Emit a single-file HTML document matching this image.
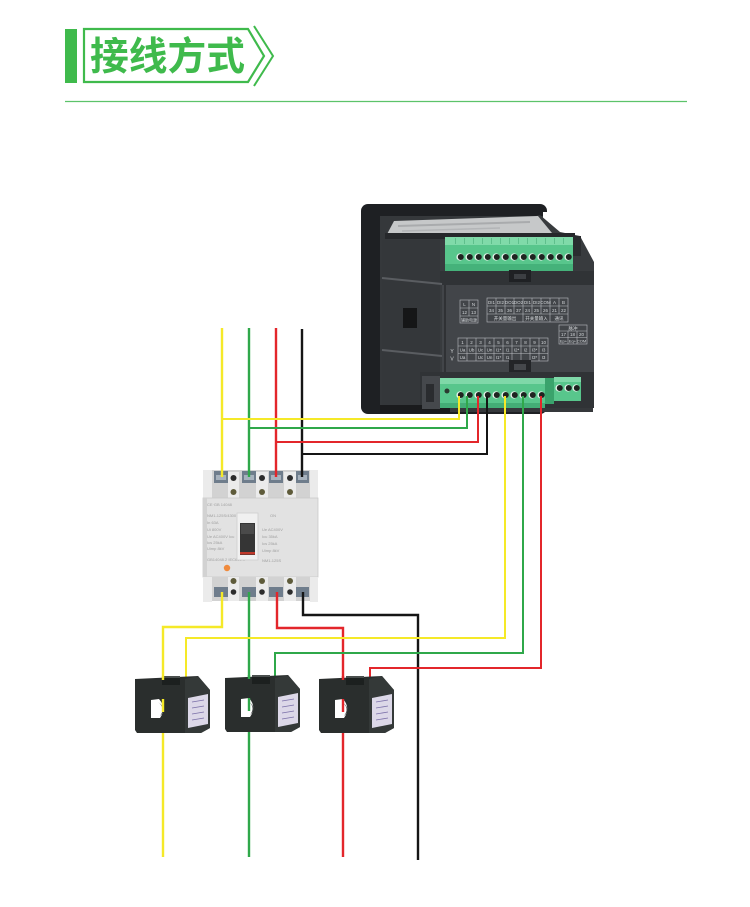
<!DOCTYPE html>
<html><head><meta charset="utf-8"><style>
html,body{margin:0;padding:0;background:#fff;}
body{width:750px;height:907px;overflow:hidden;}
svg{display:block;}
.t{font-family:"Liberation Sans","Noto Sans CJK SC",sans-serif;}
</style></head><body>
<svg width="750" height="907" viewBox="0 0 750 907" xmlns="http://www.w3.org/2000/svg">
<!-- header -->
<rect x="65" y="29" width="12" height="54" fill="#3fba4c"/>
<path d="M84,29 L248,29 L264,56 L248,82 L84,82 Z" fill="none" stroke="#3fba4c" stroke-width="2.2"/>
<path d="M254,26 L273,56 L254,86" fill="none" stroke="#3fba4c" stroke-width="2"/>
<text class="t" x="90" y="70" font-size="39" font-weight="700" fill="#3fba4c" textLength="155" lengthAdjust="spacingAndGlyphs">接线方式</text>
<line x1="65" y1="101.5" x2="687" y2="101.5" stroke="#5cc36a" stroke-width="1.2"/>

<!-- ===== METER ===== -->
<rect x="361" y="204" width="186" height="210" rx="7" fill="#1e2023"/>
<rect x="380" y="216" width="213" height="196" fill="#35383b"/>
<rect x="543" y="212" width="50" height="60" fill="#fff"/>
<path d="M540,215 L560,232 L580,236 L594,262 L594,372 L440,372 L440,240 Z" fill="#383b3e"/>
<!-- top label face -->
<path d="M385,238 L394,221 L538,216 L552,233 Z" fill="#c6c8c9"/>
<path d="M398,226 L530,222" stroke="#a9abad" stroke-width="2"/>
<path d="M402,231 L500,228" stroke="#b3b5b7" stroke-width="1.5"/>
<rect x="385" y="233" width="190" height="6" fill="#26282b"/>
<!-- left clip near top terminal -->
<rect x="424" y="246" width="12" height="20" fill="#2a2c2f" stroke="#505357" stroke-width="1"/>
<!-- top terminal block -->
<rect x="445" y="237" width="128" height="34" fill="#58c68c"/>
<rect x="445" y="237" width="128" height="8" fill="#80daa9"/>
<rect x="445" y="264" width="128" height="7" fill="#45b27a"/>
<g fill="#5fbf8c">
<rect x="455" y="238" width="1" height="6"/><rect x="464" y="238" width="1" height="6"/><rect x="473" y="238" width="1" height="6"/><rect x="482" y="238" width="1" height="6"/><rect x="491" y="238" width="1" height="6"/><rect x="500" y="238" width="1" height="6"/><rect x="509" y="238" width="1" height="6"/><rect x="518" y="238" width="1" height="6"/><rect x="527" y="238" width="1" height="6"/><rect x="536" y="238" width="1" height="6"/><rect x="545" y="238" width="1" height="6"/><rect x="554" y="238" width="1" height="6"/><rect x="563" y="238" width="1" height="6"/>
</g>
<rect x="573" y="236" width="8" height="20" fill="#2a2c2f"/>
<g>
<circle cx="460" cy="257" r="3.6" fill="#eaf5ee"/><circle cx="460.8" cy="257" r="3" fill="#1e2420"/>
<circle cx="469" cy="257" r="3.6" fill="#eaf5ee"/><circle cx="469.8" cy="257" r="3" fill="#1e2420"/>
<circle cx="478" cy="257" r="3.6" fill="#eaf5ee"/><circle cx="478.8" cy="257" r="3" fill="#1e2420"/>
<circle cx="487" cy="257" r="3.6" fill="#eaf5ee"/><circle cx="487.8" cy="257" r="3" fill="#1e2420"/>
<circle cx="496" cy="257" r="3.6" fill="#eaf5ee"/><circle cx="496.8" cy="257" r="3" fill="#1e2420"/>
<circle cx="505" cy="257" r="3.6" fill="#eaf5ee"/><circle cx="505.8" cy="257" r="3" fill="#1e2420"/>
<circle cx="514" cy="257" r="3.6" fill="#eaf5ee"/><circle cx="514.8" cy="257" r="3" fill="#1e2420"/>
<circle cx="523" cy="257" r="3.6" fill="#eaf5ee"/><circle cx="523.8" cy="257" r="3" fill="#1e2420"/>
<circle cx="532" cy="257" r="3.6" fill="#eaf5ee"/><circle cx="532.8" cy="257" r="3" fill="#1e2420"/>
<circle cx="541" cy="257" r="3.6" fill="#eaf5ee"/><circle cx="541.8" cy="257" r="3" fill="#1e2420"/>
<circle cx="550" cy="257" r="3.6" fill="#eaf5ee"/><circle cx="550.8" cy="257" r="3" fill="#1e2420"/>
<circle cx="559" cy="257" r="3.6" fill="#eaf5ee"/><circle cx="559.8" cy="257" r="3" fill="#1e2420"/>
<circle cx="568" cy="257" r="3.6" fill="#eaf5ee"/><circle cx="568.8" cy="257" r="3" fill="#1e2420"/>
</g>
<!-- ledge under top terminal -->
<rect x="430" y="271" width="164" height="14" fill="#303336"/>
<rect x="509" y="270" width="22" height="12" fill="#1f2124"/>
<rect x="514" y="274" width="12" height="5" fill="#3c3f43"/>
<!-- left side panel -->
<rect x="382" y="240" width="58" height="165" fill="#34373a"/>
<path d="M382,278 L442,284" stroke="#5a5d61" stroke-width="2"/>
<path d="M382,350 L442,356" stroke="#5a5d61" stroke-width="2"/>
<rect x="403" y="308" width="14" height="20" fill="#151617"/>
<!-- label panel -->
<rect x="442" y="285" width="152" height="88" fill="#424549"/>
<line x1="445" y1="285" x2="445" y2="373" stroke="#2a2c2f" stroke-width="1.5"/>
<g stroke="#b9bdc1" stroke-width="0.6" fill="none">
<rect x="460" y="300" width="18" height="23"/>
<line x1="460" y1="308" x2="478" y2="308"/><line x1="460" y1="316" x2="478" y2="316"/><line x1="469" y1="300" x2="469" y2="316"/>
<rect x="487" y="298" width="81" height="24"/>
<line x1="487" y1="306" x2="568" y2="306"/><line x1="487" y1="314" x2="568" y2="314"/>
<line x1="496" y1="298" x2="496" y2="314"/><line x1="505" y1="298" x2="505" y2="314"/><line x1="514" y1="298" x2="514" y2="314"/><line x1="523" y1="298" x2="523" y2="322"/><line x1="532" y1="298" x2="532" y2="314"/><line x1="541" y1="298" x2="541" y2="314"/><line x1="550" y1="298" x2="550" y2="322"/><line x1="559" y1="298" x2="559" y2="314"/>
<rect x="458" y="338" width="90" height="23"/>
<line x1="458" y1="346" x2="548" y2="346"/><line x1="458" y1="353.5" x2="548" y2="353.5"/>
<line x1="467" y1="338" x2="467" y2="361"/><line x1="476" y1="338" x2="476" y2="361"/><line x1="485" y1="338" x2="485" y2="361"/><line x1="494" y1="338" x2="494" y2="361"/><line x1="503" y1="338" x2="503" y2="361"/><line x1="512" y1="338" x2="512" y2="361"/><line x1="521" y1="338" x2="521" y2="361"/><line x1="530" y1="338" x2="530" y2="361"/><line x1="539" y1="338" x2="539" y2="361"/>
<rect x="559" y="325" width="28" height="19"/>
<line x1="559" y1="331" x2="587" y2="331"/><line x1="559" y1="337.5" x2="587" y2="337.5"/>
<line x1="568" y1="331" x2="568" y2="344"/><line x1="577" y1="331" x2="577" y2="344"/>
</g>
<g class="t" fill="#d3d6d9" font-size="4.5" text-anchor="middle">
<text x="464.5" y="306">L</text><text x="473.5" y="306">N</text>
<text x="464.5" y="314">12</text><text x="473.5" y="314">13</text>
<text x="469" y="321.5" font-size="4">辅助电源</text>
<text x="491.5" y="304">DI1</text><text x="500.5" y="304">DI2</text><text x="509.5" y="304">DO1</text><text x="518.5" y="304">DO2</text><text x="527.5" y="304">DI1</text><text x="536.5" y="304">DI2</text><text x="545.5" y="304">COM</text><text x="554.5" y="304">A</text><text x="563.5" y="304">B</text>
<text x="491.5" y="312">34</text><text x="500.5" y="312">35</text><text x="509.5" y="312">36</text><text x="518.5" y="312">37</text><text x="527.5" y="312">24</text><text x="536.5" y="312">25</text><text x="545.5" y="312">26</text><text x="554.5" y="312">21</text><text x="563.5" y="312">22</text>
<text x="505" y="320">开关量输出</text><text x="536.5" y="320">开关量输入</text><text x="559" y="320">通讯</text>
<text x="462.5" y="344">1</text><text x="471.5" y="344">2</text><text x="480.5" y="344">3</text><text x="489.5" y="344">4</text><text x="498.5" y="344">5</text><text x="507.5" y="344">6</text><text x="516.5" y="344">7</text><text x="525.5" y="344">8</text><text x="534.5" y="344">9</text><text x="543.5" y="344">10</text>
<text x="462.5" y="351.5">Ua</text><text x="471.5" y="351.5">Ub</text><text x="480.5" y="351.5">Uc</text><text x="489.5" y="351.5">Un</text><text x="498.5" y="351.5">I1*</text><text x="507.5" y="351.5">I1</text><text x="516.5" y="351.5">I2*</text><text x="525.5" y="351.5">I2</text><text x="534.5" y="351.5">I3*</text><text x="543.5" y="351.5">I3</text>
<text x="462.5" y="359">Ua</text><text x="480.5" y="359">Uc</text><text x="489.5" y="359">Un</text><text x="498.5" y="359">I1*</text><text x="507.5" y="359">I1</text><text x="534.5" y="359">I3*</text><text x="543.5" y="359">I3</text>
<text x="573" y="330">脉冲</text>
<text x="563.5" y="336">17</text><text x="572.5" y="336">18</text><text x="581.5" y="336">20</text>
<text x="563.5" y="342.5" font-size="4">Ep+</text><text x="572.5" y="342.5" font-size="4">Eq+</text><text x="581.5" y="342.5" font-size="4">COM</text>
<text x="452" y="353" font-size="5">Y</text><text x="452" y="360.5" font-size="5">V</text>
</g>
<!-- bottom notch -->
<rect x="509" y="360" width="22" height="14" fill="#232528"/>
<rect x="514" y="364" width="12" height="6" fill="#45484c"/>
<!-- bottom region -->
<rect x="420" y="372" width="174" height="36" fill="#303336"/>
<rect x="380" y="405" width="70" height="8" fill="#1a1b1d"/>
<rect x="422" y="376" width="18" height="33" fill="#45484c"/>
<rect x="426" y="384" width="8" height="18" fill="#2a2c2f"/>
<!-- bottom terminal block -->
<rect x="440" y="378" width="105" height="30" fill="#58c68c"/>
<rect x="440" y="378" width="105" height="6" fill="#7fd8a8"/>
<rect x="440" y="403" width="105" height="5" fill="#43ad76"/>
<circle cx="447" cy="391" r="2.5" fill="#2b3a30"/>
<rect x="554" y="377" width="27" height="24" fill="#58c68c"/>
<rect x="554" y="377" width="27" height="5" fill="#7fd8a8"/>
<rect x="545" y="378" width="9" height="26" fill="#3aa36c"/>
<g>
<circle cx="460" cy="395" r="3.6" fill="#eaf5ee"/><circle cx="460.8" cy="395" r="3" fill="#1e2420"/>
<circle cx="469" cy="395" r="3.6" fill="#eaf5ee"/><circle cx="469.8" cy="395" r="3" fill="#1e2420"/>
<circle cx="478" cy="395" r="3.6" fill="#eaf5ee"/><circle cx="478.8" cy="395" r="3" fill="#1e2420"/>
<circle cx="487" cy="395" r="3.6" fill="#eaf5ee"/><circle cx="487.8" cy="395" r="3" fill="#1e2420"/>
<circle cx="496" cy="395" r="3.6" fill="#eaf5ee"/><circle cx="496.8" cy="395" r="3" fill="#1e2420"/>
<circle cx="505" cy="395" r="3.6" fill="#eaf5ee"/><circle cx="505.8" cy="395" r="3" fill="#1e2420"/>
<circle cx="514" cy="395" r="3.6" fill="#eaf5ee"/><circle cx="514.8" cy="395" r="3" fill="#1e2420"/>
<circle cx="523" cy="395" r="3.6" fill="#eaf5ee"/><circle cx="523.8" cy="395" r="3" fill="#1e2420"/>
<circle cx="532" cy="395" r="3.6" fill="#eaf5ee"/><circle cx="532.8" cy="395" r="3" fill="#1e2420"/>
<circle cx="541" cy="395" r="3.6" fill="#eaf5ee"/><circle cx="541.8" cy="395" r="3" fill="#1e2420"/>
<circle cx="559" cy="388" r="3.6" fill="#eaf5ee"/><circle cx="559.8" cy="388" r="3" fill="#1e2420"/>
<circle cx="568" cy="388" r="3.6" fill="#eaf5ee"/><circle cx="568.8" cy="388" r="3" fill="#1e2420"/>
<circle cx="576" cy="388" r="3.6" fill="#eaf5ee"/><circle cx="576.8" cy="388" r="3" fill="#1e2420"/>
</g>

<!-- ===== BREAKER ===== -->
<rect x="203" y="470" width="115" height="30" fill="#d2d2d2"/>
<g fill="#ebebeb">
<rect x="203" y="470" width="9" height="30"/>
<rect x="228" y="472" width="11" height="28"/>
<rect x="256" y="472" width="12" height="28"/>
<rect x="284" y="472" width="12" height="28"/>
<rect x="310" y="470" width="8" height="30"/>
</g>
<g fill="#6f7d8c">
<rect x="214" y="471" width="14" height="12"/><rect x="242" y="471" width="14" height="12"/><rect x="269" y="471" width="14" height="12"/><rect x="296" y="471" width="13" height="12"/>
</g>
<g fill="#a7b2bd">
<rect x="216" y="475" width="10" height="5"/><rect x="244" y="475" width="10" height="5"/><rect x="271" y="475" width="10" height="5"/><rect x="298" y="475" width="9" height="5"/>
</g>
<g fill="#2c2c2c"><circle cx="233.5" cy="478" r="3"/><circle cx="262" cy="478" r="3"/><circle cx="290" cy="478" r="3"/></g>
<g fill="#5e5b3a"><circle cx="233.5" cy="492" r="3"/><circle cx="262" cy="492" r="3"/><circle cx="290" cy="492" r="3"/></g>
<rect x="203" y="498" width="115" height="79" fill="#e2e2e2" stroke="#cacaca" stroke-width="0.8"/>
<rect x="203" y="498" width="4" height="79" fill="#d2d2d2"/>
<g class="t" fill="#a0a0a0" font-size="4">
<text x="207" y="506">CE·GB 14048</text>
<text x="207" y="517">NM1-125S/4300</text>
<text x="207" y="524">In 63A</text>
<text x="207" y="531">Ui 800V</text>
<text x="207" y="538">Ue AC400V  Icu</text>
<text x="207" y="544">Ics  25kA</text>
<text x="207" y="550">Uimp 8kV</text>
<text x="207" y="561">GB14048.2  IEC60947</text>
<text x="262" y="531">Ue  AC400V</text>
<text x="262" y="538">Icu  35kA</text>
<text x="262" y="545">Ics  25kA</text>
<text x="262" y="552">Uimp 8kV</text>
<text x="262" y="562">NM1-125S</text>
<text x="270" y="517">ON</text>
</g>
<rect x="237" y="513" width="21" height="47" fill="#f0f0f0" stroke="#cfcfcf" stroke-width="0.8"/>
<rect x="240" y="523" width="15" height="32" fill="#353535"/>
<rect x="241" y="524" width="13" height="10" fill="#4a4a4a"/>
<rect x="240" y="552" width="15" height="2.5" fill="#c0392b"/>
<circle cx="227" cy="568" r="3.2" fill="#f08a3c"/>
<rect x="203" y="577" width="115" height="24" fill="#d2d2d2"/>
<g fill="#ebebeb">
<rect x="203" y="577" width="9" height="25"/>
<rect x="228" y="577" width="11" height="24"/>
<rect x="256" y="577" width="12" height="24"/>
<rect x="284" y="577" width="12" height="24"/>
<rect x="310" y="577" width="8" height="25"/>
</g>
<g fill="#5e5b3a"><circle cx="233.5" cy="581" r="3"/><circle cx="262" cy="581" r="3"/><circle cx="290" cy="581" r="3"/></g>
<g fill="#2c2c2c"><circle cx="233.5" cy="592" r="2.8"/><circle cx="262" cy="592" r="2.8"/><circle cx="290" cy="592" r="2.8"/></g>
<g fill="#6f7d8c">
<rect x="214" y="587" width="14" height="10"/><rect x="242" y="587" width="14" height="10"/><rect x="269" y="587" width="14" height="10"/><rect x="296" y="587" width="13" height="10"/>
</g>

<!-- ===== WIRES ===== -->
<g fill="none" stroke-linejoin="miter" stroke-width="2.4">
<path d="M222,328 L222,477" stroke="#f5e928"/>
<path d="M249,328 L249,477" stroke="#2fa84a"/>
<path d="M276,328 L276,477" stroke="#e3262b"/>
<path d="M302,329 L302,477" stroke="#151515"/>
<path d="M222,419 L459,419 L459,396" stroke="#f5e928" stroke-width="2"/>
<path d="M249,428 L467,428 L467,396" stroke="#2fa84a" stroke-width="2"/>
<path d="M276,442 L478,442 L478,396" stroke="#e3262b" stroke-width="2"/>
<path d="M302,454 L487,454 L487,396" stroke="#151515" stroke-width="2"/>
<path d="M222,592 L222,627 L163,627 L163,857" stroke="#f5e928"/>
<path d="M249,592 L249,857" stroke="#2fa84a"/>
<path d="M277,592 L277,628 L343,628 L343,857" stroke="#e3262b"/>
<path d="M303,592 L303,615 L418,615 L418,860" stroke="#151515"/>
<path d="M505,396 L505,638 L186,638 L186,682" stroke="#f5e928" stroke-width="2"/>
<path d="M523,396 L523,653 L275,653 L275,682" stroke="#2fa84a" stroke-width="2"/>
<path d="M541,396 L541,668 L370,668 L370,682" stroke="#e3262b" stroke-width="2"/>
</g>

<!-- ===== CTs ===== -->
<g>
<path d="M135,679 L198,676 L210,690 L210,728 L201,733 L137,733 L135,730 Z" fill="#2a2e2d"/>
<path d="M185,679 L198,676 L210,690 L210,728 L201,733 L185,733 Z" fill="#343938"/>
<rect x="162" y="676" width="18" height="9" fill="#1c201f"/>
<rect x="162" y="676" width="18" height="2" fill="#4a4f4e"/>
<path d="M151,700 L159,699 Q167,708 160,718 L151,718 Z" fill="#ffffff"/>
<path d="M158,702 Q166,708 160,716 Q168,709 158,702Z" fill="#3e4443"/>
<path d="M188,698 L208,694 L208,724 L188,728 Z" fill="#dcd8e8"/>
<g stroke="#7a6fa8" stroke-width="0.8"><line x1="192" y1="702" x2="204" y2="700"/><line x1="192" y1="708" x2="204" y2="706"/><line x1="192" y1="714" x2="204" y2="712"/><line x1="192" y1="720" x2="204" y2="718"/></g>
</g>
<g transform="translate(90,-1)">
<path d="M135,679 L198,676 L210,690 L210,728 L201,733 L137,733 L135,730 Z" fill="#2a2e2d"/>
<path d="M185,679 L198,676 L210,690 L210,728 L201,733 L185,733 Z" fill="#343938"/>
<rect x="162" y="676" width="18" height="9" fill="#1c201f"/>
<rect x="162" y="676" width="18" height="2" fill="#4a4f4e"/>
<path d="M151,700 L159,699 Q167,708 160,718 L151,718 Z" fill="#ffffff"/>
<path d="M158,702 Q166,708 160,716 Q168,709 158,702Z" fill="#3e4443"/>
<path d="M188,698 L208,694 L208,724 L188,728 Z" fill="#dcd8e8"/>
<g stroke="#7a6fa8" stroke-width="0.8"><line x1="192" y1="702" x2="204" y2="700"/><line x1="192" y1="708" x2="204" y2="706"/><line x1="192" y1="714" x2="204" y2="712"/><line x1="192" y1="720" x2="204" y2="718"/></g>
</g>
<g transform="translate(184,0)">
<path d="M135,679 L198,676 L210,690 L210,728 L201,733 L137,733 L135,730 Z" fill="#2a2e2d"/>
<path d="M185,679 L198,676 L210,690 L210,728 L201,733 L185,733 Z" fill="#343938"/>
<rect x="162" y="676" width="18" height="9" fill="#1c201f"/>
<rect x="162" y="676" width="18" height="2" fill="#4a4f4e"/>
<path d="M151,700 L159,699 Q167,708 160,718 L151,718 Z" fill="#ffffff"/>
<path d="M158,702 Q166,708 160,716 Q168,709 158,702Z" fill="#3e4443"/>
<path d="M188,698 L208,694 L208,724 L188,728 Z" fill="#dcd8e8"/>
<g stroke="#7a6fa8" stroke-width="0.8"><line x1="192" y1="702" x2="204" y2="700"/><line x1="192" y1="708" x2="204" y2="706"/><line x1="192" y1="714" x2="204" y2="712"/><line x1="192" y1="720" x2="204" y2="718"/></g>
</g>
<g stroke-width="2.4">
<line x1="163" y1="676" x2="163" y2="680" stroke="#f5e928"/>
<line x1="163" y1="699" x2="163" y2="712" stroke="#f5e928"/>
<line x1="249" y1="675" x2="249" y2="679" stroke="#2fa84a"/>
<line x1="249" y1="698" x2="249" y2="711" stroke="#2fa84a"/>
<line x1="343" y1="676" x2="343" y2="680" stroke="#e3262b"/>
<line x1="343" y1="699" x2="343" y2="712" stroke="#e3262b"/>
</g>
</svg>
</body></html>
